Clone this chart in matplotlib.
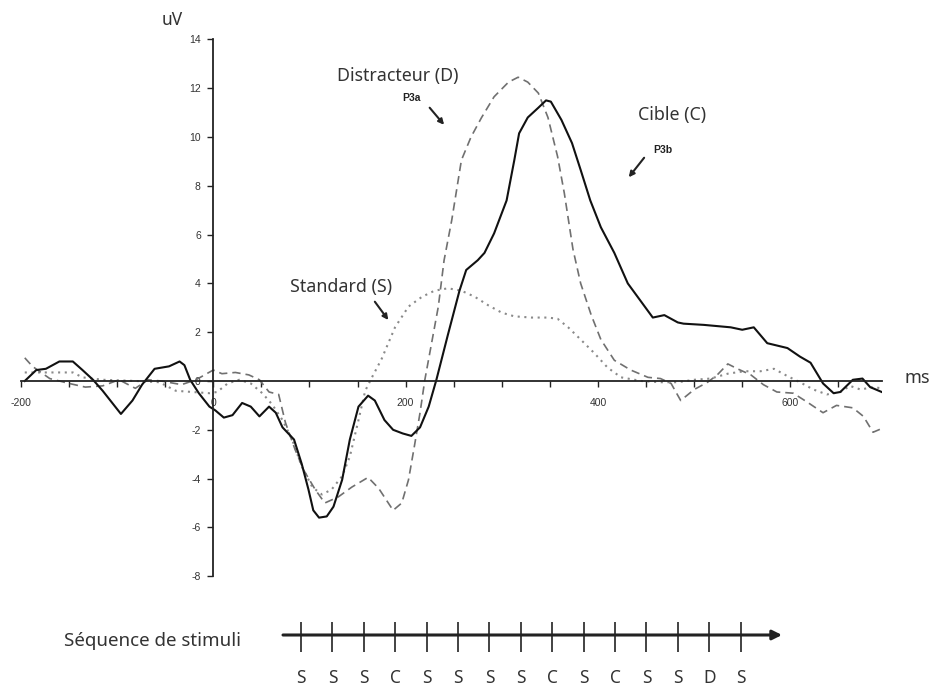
import numpy as np
import matplotlib
matplotlib.use("Agg")
import matplotlib.pyplot as plt

plt.rcParams["font.family"] = ["Noto Sans", "DejaVu Sans"]
plt.rcParams["axes.unicode_minus"] = False

# ---- ERP data (ms, uV) ----
cible_t = [-196, -184, -174, -160, -146, -136, -125, -115, -96, -84, -74, -61, -46, -35, -30,
           -24, -15, -4, 2, 11, 20, 30, 39, 48, 58, 65, 72, 84, 92, 99,
           104, 110, 118, 125, 134, 142, 151, 161, 168, 178, 187, 197, 206, 215, 224,
           232, 244, 256, 263, 275, 282, 292, 305, 313, 318, 327, 338, 346, 351, 362,
           373, 382, 392, 403, 417, 431, 444, 457, 469, 483, 489, 510, 538, 550, 562,
           576, 597, 610, 621, 634, 645, 652, 665, 675, 683, 695]
cible_v = [0.0, 0.45, 0.5, 0.8, 0.8, 0.45, 0.05, -0.4, -1.35, -0.8, -0.15, 0.5, 0.6, 0.8, 0.65,
           0.05, -0.5, -1.05, -1.2, -1.5, -1.4, -0.9, -1.05, -1.45, -1.05, -1.3, -1.9, -2.4, -3.4, -4.45,
           -5.3, -5.6, -5.55, -5.15, -4.05, -2.4, -1.05, -0.6, -0.8, -1.6, -2.0, -2.15, -2.25, -1.9, -1.05,
           0.05, 1.9, 3.7, 4.55, 4.95, 5.25, 6.05, 7.4, 9.05, 10.15, 10.8, 11.2, 11.5, 11.45, 10.7,
           9.75, 8.65, 7.4, 6.3, 5.25, 4.0, 3.3, 2.6, 2.7, 2.4, 2.35, 2.3, 2.2, 2.1, 2.2,
           1.55, 1.35, 1.0, 0.75, -0.1, -0.5, -0.45, 0.05, 0.1, -0.25, -0.45]

distr_t = [-196, -188, -170, -150, -133, -115, -98, -81, -68, -54, -33, -18, 0, 9, 23,
           37, 48, 58, 68, 75, 85, 94, 106, 116, 130, 144, 161, 172, 187, 196,
           203, 209, 215, 220, 227, 234, 240, 248, 258, 268, 279, 292, 307, 317, 327,
           338, 348, 358, 365, 374, 382, 393, 403, 417, 434, 452, 465, 476, 486, 500,
           514, 524, 535, 545, 559, 572, 586, 603, 617, 634, 648, 665, 676, 686, 695]
distr_v = [0.95, 0.6, 0.1, -0.1, -0.25, -0.2, 0.05, -0.3, 0.05, 0.0, -0.15, 0.05, 0.45, 0.3, 0.35,
           0.25, 0.05, -0.45, -0.55, -1.7, -2.8, -3.65, -4.45, -5.0, -4.75, -4.35, -3.95, -4.4, -5.3, -5.0,
           -4.05, -2.7, -1.3, 0.05, 1.55, 3.05, 4.95, 6.6, 9.05, 10.0, 10.8, 11.65, 12.25, 12.45, 12.25,
           11.8, 10.8, 9.2, 7.7, 5.4, 4.0, 2.7, 1.7, 0.85, 0.45, 0.15, 0.1, -0.1, -0.8, -0.35,
           -0.05, 0.25, 0.7, 0.5, 0.25, -0.15, -0.45, -0.5, -0.85, -1.3, -1.0, -1.1, -1.45, -2.1, -1.95]

stand_t = [-196, -180, -166, -146, -136, -115, -80, -56, -39, -22, -4, 4, 15, 27, 39,
           51, 61, 72, 82, 92, 103, 113, 123, 134, 142, 151, 158, 165, 175, 189,
           203, 217, 230, 244, 258, 272, 286, 300, 313, 331, 348, 358, 369, 382, 396,
           410, 424, 445, 465, 483, 500, 517, 535, 552, 569, 583, 597, 610, 624, 638,
           652, 662, 673, 686, 695]
stand_v = [0.35, 0.35, 0.35, 0.35, 0.15, 0.05, 0.0, -0.05, -0.4, -0.45, -0.5, -0.45, -0.1, 0.05, -0.1,
           -0.5, -0.95, -1.6, -2.4, -3.5, -4.35, -4.65, -4.45, -3.9, -3.1, -1.6, -0.4, 0.15, 0.9, 2.2,
           3.05, 3.45, 3.7, 3.8, 3.7, 3.45, 3.1, 2.8, 2.65, 2.6, 2.6, 2.55, 2.2, 1.7, 1.15,
           0.55, 0.15, 0.0, -0.05, -0.05, 0.05, 0.1, 0.3, 0.4, 0.4, 0.5, 0.2, -0.05, -0.35, -0.55,
           -0.45, -0.2, -0.35, -0.25, -0.3]

stimuli = ["S", "S", "S", "C", "S", "S", "S", "S", "C", "S", "C", "S", "S", "D", "S"]

W, H = 935, 688


def px_rect(x0, y0, x1, y1):
    # pixel box (top-left origin) -> figure fraction rect
    return [x0 / W, 1 - y1 / H, (x1 - x0) / W, (y1 - y0) / H]


fig = plt.figure(figsize=(W / 100, H / 100), dpi=100)

# ---- main ERP axes ----
ax = fig.add_axes(px_rect(20.9, 39.4, 881.7, 576.2))
ax.plot(stand_t, stand_v, color="#8a8a8a", lw=1.5, ls=(0, (1, 2.2)))
ax.plot(distr_t, distr_v, color="#707070", lw=1.2, ls=(0, (5, 3)))
ax.plot(cible_t, cible_v, color="#111111", lw=1.5)

ax.set_xlim(-197, 695)
ax.set_ylim(-8, 14)
for s in ("top", "right"):
    ax.spines[s].set_visible(False)
ax.spines["left"].set_position(("data", 0))
ax.spines["bottom"].set_position(("data", 0))
for s in ("left", "bottom"):
    ax.spines[s].set_linewidth(1.3)
    ax.spines[s].set_color("#222222")

ax.set_xticks([-200, 0, 200, 400, 600])
ax.set_xticks(np.arange(-200, 700, 50), minor=True)
ax.set_yticks(np.arange(-8, 15, 2))
ax.tick_params(axis="x", which="both", direction="out", length=4, width=1, pad=8,
               labelsize=7.5, labelcolor="#333333", color="#222222")
ax.tick_params(axis="y", direction="out", length=4, width=1, pad=5,
               labelsize=7.5, labelcolor="#333333", color="#222222")
for lab in ax.get_xticklabels() + ax.get_yticklabels():
    lab.set_family(["Liberation Sans", "DejaVu Sans"])

# ---- annotations ----
txt = dict(color="#333333", fontsize=12.8, ha="center", va="center")
ax.text(192, 12.5, "Distracteur (D)", **txt)
ax.text(477, 10.9, "Cible (C)", **txt)
ax.text(133, 3.85, "Standard (S)", **txt)
small = dict(color="#222222", fontsize=7.5, fontweight="bold", ha="center", va="center",
             family=["Liberation Sans", "DejaVu Sans"])
ax.text(206, 11.6, "P3a", **small)
ax.text(467, 9.45, "P3b", **small)
arrow = dict(arrowstyle="-|>", lw=1.5, color="#222222", mutation_scale=8, shrinkA=0, shrinkB=0)
ax.annotate("", xy=(240, 10.5), xytext=(225, 11.2), arrowprops=arrow)
ax.annotate("", xy=(432, 8.35), xytext=(448, 9.15), arrowprops=arrow)
ax.annotate("", xy=(182, 2.5), xytext=(168, 3.25), arrowprops=arrow)

fig.text(172 / W, 1 - 20 / H, "uV", fontsize=12.5, color="#333333", ha="center", va="center")
fig.text(917 / W, 1 - 378 / H, "ms", fontsize=13, color="#333333", ha="center", va="center")

# ---- stimulus sequence ----
sx = fig.add_axes(px_rect(270, 610, 800, 688))
step = 31.4
sx.set_xlim((270 - 301) / step, (800 - 301) / step)
sx.set_ylim(688, 610)
sx.axis("off")
idx = np.arange(len(stimuli))
sx.annotate("", xy=((782 - 301) / step, 635), xytext=((283 - 301) / step, 635),
            arrowprops=dict(arrowstyle="-|>", lw=2.2, color="#222222", mutation_scale=14,
                            shrinkA=0, shrinkB=0))
sx.vlines(idx, 622, 652, color="#222222", lw=1.2)
for i, s in zip(idx, stimuli):
    sx.text(i, 678, s, fontsize=12.5, color="#333333", ha="center", va="center")

fig.text(152 / W, 1 - 641 / H, "Séquence de stimuli", fontsize=13.5, color="#333333",
         ha="center", va="center")

fig.savefig("out.png", dpi=100)
